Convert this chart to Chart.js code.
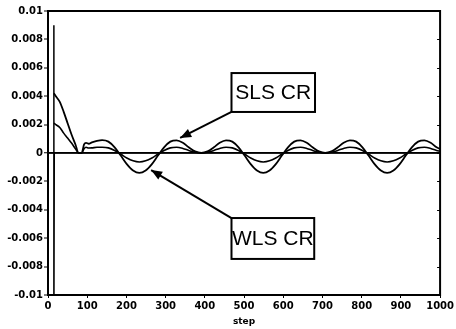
<!DOCTYPE html>
<html>
<head>
<meta charset="utf-8">
<script src="https://cdn.jsdelivr.net/npm/chart.js@4/dist/chart.umd.min.js"></script>
<style>
  html, body { margin: 0; padding: 0; background: #fff; }
  #wrap { width: 456px; height: 329px; }
</style>
</head>
<body>
<div id="wrap"><canvas id="c" width="456" height="329"></canvas></div>
<script>
// ---- data ----
const steps = [15,20,30,40,50,60,70,78,86,
  92,97,104,112,125,138,154,170,186,201,217,233,
  249,265,280,296,312,328,344,359,375,391,407,423,438,454,470,486,502,517,533,549,
  565,581,596,612,628,644,660,675,691,707,723,739,754,770,786,802,818,833,849,865,
  881,897,912,928,944,960,976,991,1000];

const slsValues = [0.0042,0.0040,0.0036,0.0029,0.0021,0.0013,0.0006,0.0,0.0,
  0.0006,0.00072,0.00065,0.00075,0.00085,0.0009,0.0008,0.0004,-0.0002,-0.00078,-0.00123,-0.0014,
  -0.00123,-0.00078,-0.0002,0.0004,0.0008,0.00089,0.00072,0.0004,0.00011,0.0,0.00011,0.0004,0.00072,0.00089,0.0008,0.0004,-0.0002,-0.00078,-0.00123,-0.0014,
  -0.00123,-0.00078,-0.0002,0.0004,0.0008,0.00089,0.00072,0.0004,0.00011,0.0,0.00011,0.0004,0.00072,0.00089,0.0008,0.0004,-0.0002,-0.00078,-0.00123,-0.0014,
  -0.00123,-0.00078,-0.0002,0.0004,0.0008,0.00089,0.00072,0.0004,0.00028];

const wlsValues = [0.0021,0.0020,0.0018,0.0014,0.00105,0.0007,0.0003,0.0,0.0,
  0.0003,0.0004,0.00035,0.00036,0.0004,0.0004,0.00036,0.00018,-0.00009,-0.00035,-0.00055,-0.00063,
  -0.00055,-0.00035,-0.00009,0.00018,0.00036,0.0004,0.00032,0.00018,0.00005,0.0,0.00005,0.00018,0.00032,0.0004,0.00036,0.00018,-0.00009,-0.00035,-0.00055,-0.00063,
  -0.00055,-0.00035,-0.00009,0.00018,0.00036,0.0004,0.00032,0.00018,0.00005,0.0,0.00005,0.00018,0.00032,0.0004,0.00036,0.00018,-0.00009,-0.00035,-0.00055,-0.00063,
  -0.00055,-0.00035,-0.00009,0.00018,0.00036,0.0004,0.00032,0.00018,0.00012];

const spikeSteps  = [0, 15, 15, 15, 16, 1000];
const spikeValues = [0, 0, 0.009, -0.0125, 0, 0];

const xTicks = [0,100,200,300,400,500,600,700,800,900,1000];
const yTicks = [0.01,0.008,0.006,0.004,0.002,0,-0.002,-0.004,-0.006,-0.008,-0.01];
const xTitle = 'step';

// annotation boxes (data coordinates) and arrow tips
const notes = [
  { text: 'SLS CR', x0: 468, x1: 681, y0: 0.00563, y1: 0.00289, fromX: 468, fromY: 0.00289, tipX: 337, tipY: 0.00106 },
  { text: 'WLS CR', x0: 468, x1: 679, y0: -0.00458, y1: -0.00746, fromX: 468, fromY: -0.00458, tipX: 263, tipY: -0.0012 }
];

const pts = (xs, ys) => xs.map((v, i) => ({ x: v, y: ys[i] }));

const FONT = 'DejaVu Sans';

const framePlugin = {
  id: 'frame',
  afterDatasetsDraw(chart) {
    const { ctx, chartArea: a, scales: { x, y } } = chart;
    ctx.save();
    ctx.strokeStyle = '#000';
    ctx.lineWidth = 2;
    ctx.strokeRect(a.left, a.top, a.right - a.left, a.bottom - a.top);
    ctx.lineWidth = 1;
    yTicks.forEach(v => {
      const py = Math.round(y.getPixelForValue(v)) + 0.5;
      ctx.beginPath(); ctx.moveTo(a.right, py); ctx.lineTo(a.right - 3, py); ctx.stroke();
    });
    notes.forEach(n => {
      const bx0 = x.getPixelForValue(n.x0), bx1 = x.getPixelForValue(n.x1);
      const by0 = y.getPixelForValue(n.y0), by1 = y.getPixelForValue(n.y1);
      const fx = x.getPixelForValue(n.fromX), fy = y.getPixelForValue(n.fromY);
      const tx = x.getPixelForValue(n.tipX), ty = y.getPixelForValue(n.tipY);
      ctx.strokeStyle = '#000';
      ctx.lineWidth = 2;
      ctx.beginPath(); ctx.moveTo(fx, fy); ctx.lineTo(tx, ty); ctx.stroke();
      const ang = Math.atan2(ty - fy, tx - fx);
      const L = 11, W = 4.5;
      ctx.fillStyle = '#000';
      ctx.beginPath();
      ctx.moveTo(tx, ty);
      ctx.lineTo(tx - L * Math.cos(ang) + W * Math.sin(ang), ty - L * Math.sin(ang) - W * Math.cos(ang));
      ctx.lineTo(tx - L * Math.cos(ang) - W * Math.sin(ang), ty - L * Math.sin(ang) + W * Math.cos(ang));
      ctx.closePath(); ctx.fill();
      ctx.fillStyle = '#fff';
      ctx.fillRect(bx0, by0, bx1 - bx0, by1 - by0);
      ctx.lineWidth = 2;
      ctx.strokeRect(bx0, by0, bx1 - bx0, by1 - by0);
      ctx.fillStyle = '#000';
      ctx.font = '21px "Liberation Sans"';
      ctx.textAlign = 'center';
      ctx.textBaseline = 'middle';
      ctx.fillText(n.text, (bx0 + bx1) / 2, (by0 + by1) / 2 + 1);
    });
    ctx.restore();
  }
};

const lineStyle = { borderColor: '#000', pointRadius: 0, fill: false };

new Chart(document.getElementById('c'), {
  type: 'line',
  data: {
    datasets: [
      Object.assign({ label: 'spike', data: pts(spikeSteps, spikeValues), borderWidth: 1.5, tension: 0 }, lineStyle),
      Object.assign({ label: 'SLS CR', data: pts(steps, slsValues), borderWidth: 1.8, cubicInterpolationMode: 'monotone' }, lineStyle),
      Object.assign({ label: 'WLS CR', data: pts(steps, wlsValues), borderWidth: 1.6, cubicInterpolationMode: 'monotone' }, lineStyle)
    ]
  },
  options: {
    responsive: false,
    animation: false,
    devicePixelRatio: 1,
    layout: { padding: { top: 11, right: 13, left: 0, bottom: 0 } },
    plugins: { legend: { display: false }, tooltip: { enabled: false } },
    scales: {
      x: {
        type: 'linear', min: 0, max: 1000,
        afterFit: s => { s.height = 34; },
        afterBuildTicks: s => { s.ticks = xTicks.map(v => ({ value: v })); },
        grid: { drawOnChartArea: false, drawTicks: true, tickLength: 3, tickColor: '#000', tickWidth: 1 },
        border: { color: '#000', width: 2 },
        ticks: { color: '#000', font: { family: FONT, weight: 'bold', size: 10 }, padding: 2, maxRotation: 0, autoSkip: false,
          callback: v => String(v) },
        title: { display: true, text: xTitle, color: '#000', font: { family: FONT, weight: 'bold', size: 9 }, padding: { top: 0, bottom: 2 } }
      },
      y: {
        type: 'linear', min: -0.01, max: 0.01,
        afterFit: s => { s.width = 48; },
        afterBuildTicks: s => { s.ticks = yTicks.map(v => ({ value: v })); },
        grid: {
          drawOnChartArea: true, drawTicks: true, tickLength: 4, tickColor: '#000', tickWidth: 1,
          color: c => (c.tick && c.tick.value === 0 ? '#000' : 'rgba(0,0,0,0)'),
          lineWidth: c => (c.tick && c.tick.value === 0 ? 1.5 : 0)
        },
        border: { color: '#000', width: 2 },
        ticks: {
          color: '#000', font: { family: FONT, weight: 'bold', size: 10 }, padding: 1, autoSkip: false,
          callback: v => (v === 0 ? '0' : String(Number(v.toFixed(3))))
        }
      }
    }
  },
  plugins: [framePlugin]
});
</script>
</body>
</html>
